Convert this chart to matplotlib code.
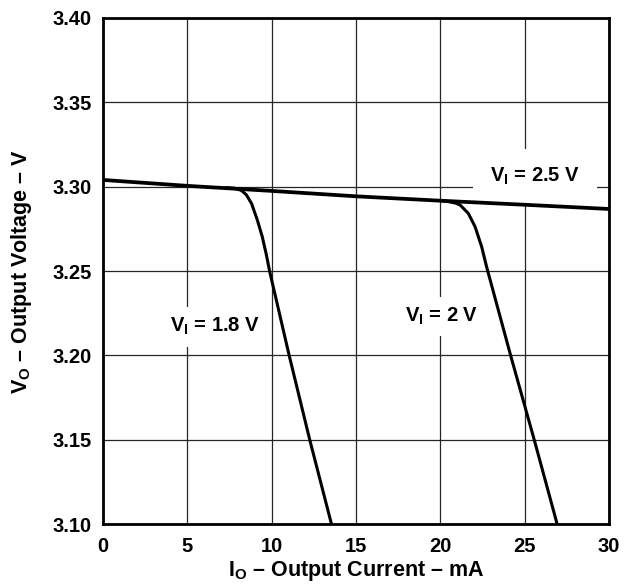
import matplotlib
matplotlib.use('Agg')
import matplotlib.pyplot as plt

plt.rcParams['font.family'] = ['Liberation Sans', 'DejaVu Sans']
plt.rcParams['font.weight'] = 'bold'
plt.rcParams['axes.labelweight'] = 'bold'
plt.rcParams['mathtext.fontset'] = 'custom'
plt.rcParams['mathtext.rm'] = 'Liberation Sans:bold'
plt.rcParams['mathtext.bf'] = 'Liberation Sans:bold'
plt.rcParams['mathtext.it'] = 'Liberation Sans:bold'

# V_I = 2.5 V (no dropout in range)
I_25 = [0, 5, 10, 15, 20, 25, 30]
V_25 = [3.304, 3.3005, 3.2975, 3.2943, 3.2917, 3.2893, 3.2868]

# V_I = 1.8 V
I_18 = [7.3, 7.82, 8.2, 8.5, 8.81, 9.15, 9.44, 9.68, 9.89, 11.04, 12.26, 13.55]
V_18 = [3.2995, 3.299, 3.2978, 3.2952, 3.290, 3.2803, 3.2705, 3.260, 3.2495,
        3.200, 3.150, 3.100]

# V_I = 2 V
I_20 = [20.0, 20.57, 20.9, 21.17, 21.66, 22.06, 22.45, 22.75, 24.17, 25.57, 26.93]
V_20 = [3.2918, 3.291, 3.2903, 3.2892, 3.2842, 3.2763, 3.2645, 3.2523, 3.200,
        3.150, 3.100]

XTICKS = [0, 5, 10, 15, 20, 25, 30]
YTICKS = [3.10, 3.15, 3.20, 3.25, 3.30, 3.35, 3.40]


def main():
    fig = plt.figure(figsize=(6.31, 5.85), dpi=100)
    ax = fig.add_axes([0.1632, 0.1038, 0.8019, 0.8656])

    ax.plot(I_25, V_25, '-', color='black', linewidth=2.7, zorder=5)
    ax.plot(I_18, V_18, '-', color='black', linewidth=2.2, zorder=5,
            solid_capstyle='round', solid_joinstyle='round')
    ax.plot(I_20, V_20, '-', color='black', linewidth=2.2, zorder=5,
            solid_capstyle='round', solid_joinstyle='round')

    ax.set_xlim(0, 30)
    ax.set_ylim(3.10, 3.40)
    ax.set_xticks(XTICKS)
    ax.set_yticks(YTICKS)
    ax.set_xticklabels([str(v) for v in XTICKS])
    ax.set_yticklabels(['%.2f' % v for v in YTICKS])
    ax.tick_params(axis='both', length=0, labelsize=14.5)
    ax.tick_params(axis='x', pad=9)
    ax.tick_params(axis='y', pad=8)
    ax.grid(True, color='0.15', linewidth=0.9)
    ax.set_axisbelow(True)
    for s in ax.spines.values():
        s.set_linewidth(2.0)
        s.set_zorder(6)

    box = dict(facecolor='white', edgecolor='none', boxstyle='square,pad=0.45')
    ax.text(6.64, 3.217, r'$\mathbf{V_I}$ = 1.8 V', fontsize=14.5,
            ha='center', va='center', bbox=box, zorder=3)
    ax.text(20.1, 3.223, r'$\mathbf{V_I}$ = 2 V', fontsize=14.5,
            ha='center', va='center', bbox=box, zorder=3)
    ax.text(25.6, 3.306, r'$\mathbf{V_I}$ = 2.5 V', fontsize=14.5,
            ha='center', va='center', zorder=3,
            bbox=dict(facecolor='white', edgecolor='none',
                      boxstyle='square,pad=0.85'))

    ax.set_xlabel(r'$\mathbf{I_O}$ – Output Current – mA', fontsize=15.5,
                  labelpad=2)
    ax.set_ylabel(r'$\mathbf{V_O}$ – Output Voltage – V', fontsize=15.5,
                  labelpad=13)

    plt.savefig('out.png', dpi=100)
    plt.close('all')


if __name__ == '__main__':
    main()
